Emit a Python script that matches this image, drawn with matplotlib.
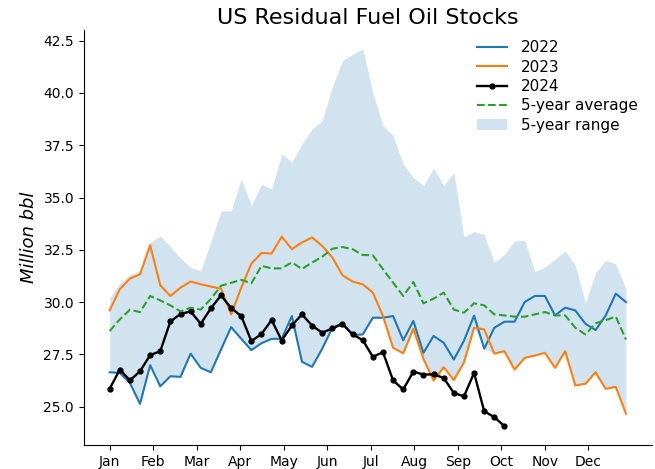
import matplotlib.pyplot as plt
import numpy as np

weeks = np.arange(1, 53)
months = ['Jan', 'Feb', 'Mar', 'Apr', 'May', 'Jun', 'Jul', 'Aug', 'Sep', 'Oct', 'Nov', 'Dec']

stocks_2022 = [26.64, 26.61, 26.13, 25.13, 26.98, 25.97, 26.45, 26.42, 27.53, 26.85,
               26.64, 27.73, 28.80, 28.24, 27.70, 28.03, 28.24, 28.24, 29.33, 27.14,
               26.90, 27.77, 28.77, 28.98, 28.42, 28.45, 29.25, 29.25, 29.33, 28.17,
               29.10, 27.57, 28.38, 28.05, 27.25, 28.15, 29.35, 27.77, 28.77, 29.06,
               29.06, 30.00, 30.29, 30.29, 29.36, 29.73, 29.60, 28.96, 28.66, 29.36,
               30.40, 30.00]
stocks_2023 = [29.60, 30.61, 31.12, 31.33, 32.72, 30.80, 30.29, 30.69, 30.98, 30.85,
               30.74, 30.64, 29.41, 30.69, 31.84, 32.35, 32.32, 33.13, 32.53, 32.85,
               33.09, 32.68, 32.13, 31.28, 30.98, 30.85, 30.45, 29.33, 27.81, 27.55,
               28.72, 27.28, 26.24, 26.88, 26.27, 27.11, 28.77, 28.69, 27.53, 27.65,
               26.77, 27.33, 27.44, 27.57, 26.85, 27.65, 26.01, 26.09, 26.64, 25.85,
               25.94, 24.66]
stocks_2024 = [25.85, 26.77, 26.25, 26.69, 27.46, 27.65, 29.07, 29.43, 29.55, 28.96,
               29.70, 30.32, 29.71, 29.33, 28.13, 28.47, 29.14, 28.16, 28.88, 29.41,
               28.87, 28.53, 28.74, 28.95, 28.45, 28.18, 27.38, 27.60, 26.25, 25.82,
               26.67, 26.53, 26.54, 26.37, 25.65, 25.49, 26.61, 24.78, 24.49, 24.06]
avg_5yr = [28.61, 29.17, 29.63, 29.52, 30.29, 30.08, 29.84, 29.55, 29.73, 29.64,
           30.15, 30.78, 30.92, 31.06, 30.90, 31.73, 31.61, 31.61, 31.90, 31.58,
           31.89, 32.17, 32.55, 32.63, 32.53, 32.25, 32.24, 31.57, 30.93, 30.29,
           30.96, 29.94, 30.16, 30.45, 29.64, 29.49, 29.94, 29.84, 29.41, 29.36,
           29.30, 29.30, 29.41, 29.52, 29.36, 29.36, 28.77, 28.45, 28.98, 29.14,
           29.30, 28.21]
range_hi = [30.21, 30.90, 31.30, 31.50, 32.85, 33.16, 32.65, 32.10, 31.65, 31.50,
            32.90, 34.36, 34.36, 35.88, 34.62, 35.64, 35.40, 37.10, 36.70, 37.56,
            38.28, 38.68, 40.30, 41.55, 41.85, 42.11, 40.00, 38.44, 37.96, 36.60,
            35.95, 35.57, 36.40, 35.57, 36.20, 33.12, 33.37, 33.22, 31.89, 32.29,
            32.92, 32.95, 31.46, 31.67, 32.05, 32.45, 31.77, 29.95, 31.41, 31.99,
            31.83, 30.65]
range_lo = [26.64, 26.61, 26.13, 25.13, 26.98, 25.97, 26.45, 26.42, 27.53, 26.85,
            26.64, 27.73, 28.80, 28.24, 27.70, 28.03, 28.24, 28.24, 29.33, 27.14,
            26.90, 27.77, 28.77, 28.98, 28.42, 28.45, 29.25, 29.25, 27.81, 27.55,
            28.72, 27.28, 26.24, 26.88, 26.27, 27.11, 28.77, 27.77, 27.53, 27.65,
            26.77, 27.33, 27.44, 27.57, 26.85, 27.65, 26.01, 26.09, 26.64, 25.85,
            25.94, 24.66]

fig = plt.figure(figsize=(6.55, 4.69), dpi=100)
ax = fig.add_axes([0.128, 0.051, 0.867, 0.885])

ax.fill_between(weeks, range_lo, range_hi, color='C0', alpha=0.2, linewidth=0, label='5-year range')
ax.plot(weeks, stocks_2022, color='C0', lw=1.5, label='2022')
ax.plot(weeks, stocks_2023, color='C1', lw=1.5, label='2023')
ax.plot(weeks[:len(stocks_2024)], stocks_2024, color='black', lw=1.7, marker='o', ms=3.5, label='2024')
ax.plot(weeks, avg_5yr, color='C2', ls='--', lw=1.5, label='5-year average')

ax.set_xticks(1 + 4.3 * np.arange(12))
ax.set_xticklabels(months)
ax.set_ylabel('Million bbl', fontsize=13, style='italic')
ax.set_title('US Residual Fuel Oil Stocks', fontsize=16, pad=4)
ax.spines['top'].set_visible(False)
ax.spines['right'].set_visible(False)

# legend order: years first, then average and range
handles, labels = ax.get_legend_handles_labels()
order = [1, 2, 3, 4, 0]
ax.legend([handles[i] for i in order], [labels[i] for i in order],
          loc='upper right', bbox_to_anchor=(1, 1.008), frameon=False, fontsize=11,
          labelspacing=0.28, handletextpad=0.9)

fig.savefig('out.png', dpi=100)
